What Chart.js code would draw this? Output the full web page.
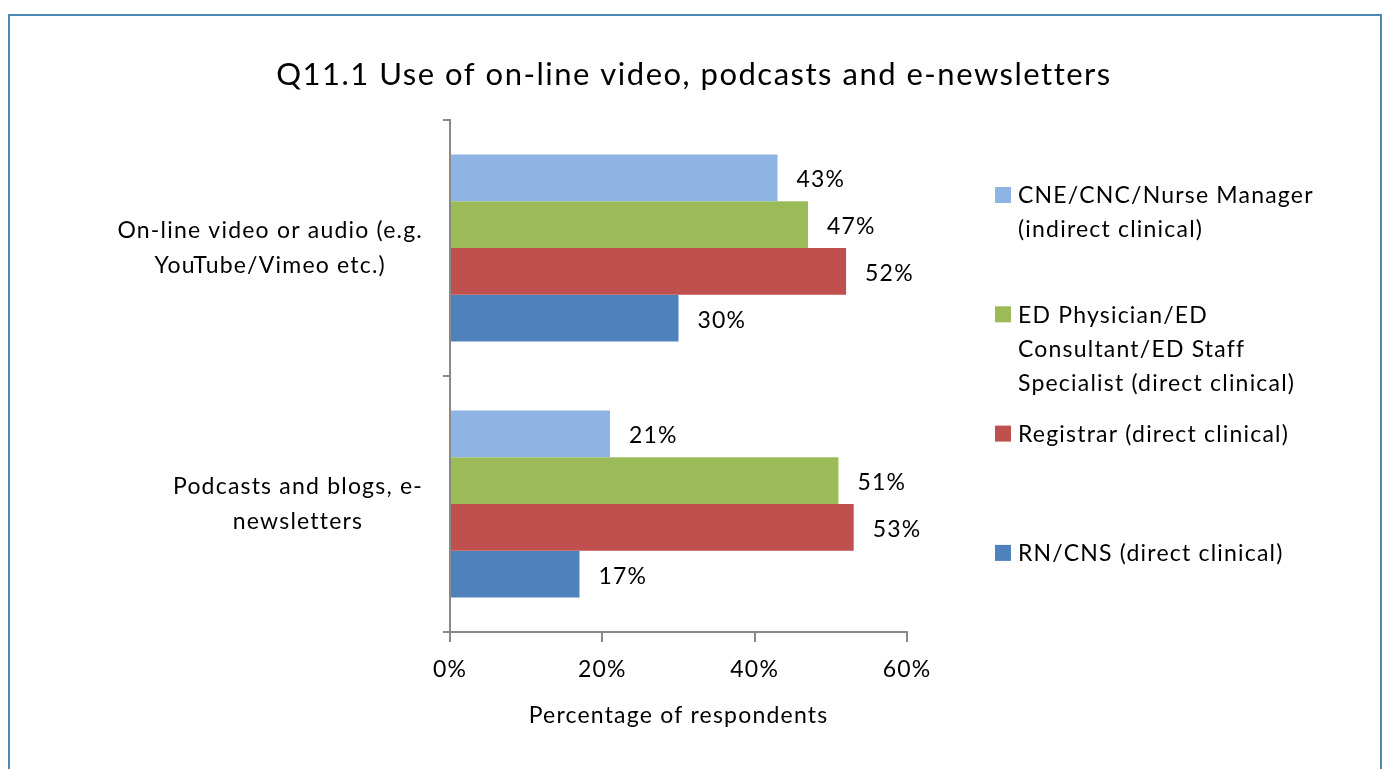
<!DOCTYPE html>
<html>
<head>
<meta charset="utf-8">
<script src="https://cdn.jsdelivr.net/npm/chart.js@4.4.0/dist/chart.umd.min.js"></script>
<style>
  html, body { margin: 0; padding: 0; background: #fff; overflow: hidden; }
  #frame { position: absolute; left: 8px; top: 14px; width: 1370px; height: 800px; border: 2px solid #4a89b5; }
  #chart { position: absolute; left: 0; top: 0; }
</style>
</head>
<body>
<div id="frame"></div>
<canvas id="chart" width="1386" height="769"></canvas>
<script>
// chart data
const chartTitle = "Q11.1 Use of on-line video, podcasts and e-newsletters";
const categories = [
  ["On-line video or audio (e.g.", "YouTube/Vimeo etc.)"],
  ["Podcasts and blogs, e-", "newsletters"],
];
const seriesNames = [
  ["CNE/CNC/Nurse Manager", "(indirect clinical)"],
  ["ED Physician/ED", "Consultant/ED Staff", "Specialist (direct clinical)"],
  ["Registrar (direct clinical)"],
  ["RN/CNS (direct clinical)"],
];
const cneValues = [43, 21];
const edValues = [47, 51];
const registrarValues = [52, 53];
const rnValues = [30, 17];
const xTicks = [0, 20, 40, 60];
const xTitle = "Percentage of respondents";

const FONT = "Lato";
const TEXT_SIZE = 23;
const colors = ["#8eb4e3", "#9bbb59", "#c0504d", "#4f81bd"];
const axisGray = "#898989";

// wider tracking for every text drawn on the canvas
const tracking = {
  id: "tracking",
  beforeDraw(chart) {
    chart.ctx.letterSpacing = "1.2px";
  },
};

// title, drawn centred on the canvas rather than the plot
const titlePlugin = {
  id: "bigTitle",
  afterDraw(chart) {
    const ctx = chart.ctx;
    ctx.save();
    ctx.letterSpacing = "1.5px";
    ctx.font = "31px " + FONT;
    ctx.fillStyle = "#000";
    ctx.textAlign = "center";
    ctx.textBaseline = "middle";
    ctx.fillText(chartTitle, 694, 75);
    ctx.restore();
  },
};

// category labels: each block right aligned, lines centred inside it
const categoryLabels = {
  id: "categoryLabels",
  afterDraw(chart) {
    const ctx = chart.ctx;
    const yScale = chart.scales.y;
    ctx.save();
    ctx.font = TEXT_SIZE + "px " + FONT;
    ctx.fillStyle = "#000";
    ctx.textAlign = "center";
    ctx.textBaseline = "middle";
    const lh = 35;
    categories.forEach((lines, i) => {
      const y = yScale.getPixelForValue(i);
      const w = Math.max(...lines.map((l) => ctx.measureText(l).width));
      const cx = 423 - w / 2;
      lines.forEach((l, k) => {
        ctx.fillText(l, cx, y + (k - (lines.length - 1) / 2) * lh);
      });
    });
    ctx.restore();
  },
};

// value labels to the right of each bar
const valueLabels = {
  id: "valueLabels",
  afterDatasetsDraw(chart) {
    const ctx = chart.ctx;
    ctx.save();
    ctx.font = TEXT_SIZE + "px " + FONT;
    ctx.fillStyle = "#000";
    ctx.textAlign = "left";
    ctx.textBaseline = "middle";
    chart.data.datasets.forEach((ds, di) => {
      chart.getDatasetMeta(di).data.forEach((bar, i) => {
        ctx.fillText(ds.data[i] + "%", bar.x + 19, bar.y + 2);
      });
    });
    ctx.restore();
  },
};

// legend on the right, wrapped names
const sideLegend = {
  id: "sideLegend",
  afterDraw(chart) {
    const ctx = chart.ctx;
    ctx.save();
    ctx.font = TEXT_SIZE + "px " + FONT;
    ctx.textAlign = "left";
    ctx.textBaseline = "middle";
    seriesNames.forEach((lines, i) => {
      const top = 178 + i * 119.3;
      ctx.fillStyle = colors[i];
      ctx.fillRect(995, top + 9, 16, 16);
      ctx.fillStyle = "#000";
      lines.forEach((l, k) => {
        ctx.fillText(l, 1018, top + 18 + k * 34);
      });
    });
    ctx.restore();
  },
};

const seriesValues = [cneValues, edValues, registrarValues, rnValues];

new Chart(document.getElementById("chart").getContext("2d"), {
  type: "bar",
  data: {
    labels: categories.map((c) => c.join(" ")),
    datasets: seriesValues.map((vals, i) => ({
      label: seriesNames[i].join(" "),
      data: vals,
      backgroundColor: colors[i],
      categoryPercentage: 0.73,
      barPercentage: 1,
    })),
  },
  options: {
    indexAxis: "y",
    responsive: false,
    animation: false,
    layout: { padding: { left: 443, right: 479, top: 120, bottom: 0 } },
    plugins: {
      legend: { display: false },
      tooltip: { enabled: false },
      title: { display: false },
    },
    scales: {
      x: {
        min: 0,
        max: 60,
        afterBuildTicks(s) {
          s.ticks = xTicks.map((v) => ({ value: v }));
        },
        afterFit(s) {
          s.height = 137;
        },
        ticks: {
          callback: (v) => v + "%",
          color: "#000",
          font: { family: FONT, size: TEXT_SIZE },
          padding: 14,
        },
        grid: {
          drawOnChartArea: false,
          drawTicks: true,
          tickLength: 10,
          color: axisGray,
          lineWidth: 2,
        },
        border: { color: axisGray, width: 2 },
        title: {
          display: true,
          text: xTitle,
          color: "#000",
          font: { family: FONT, size: TEXT_SIZE },
          padding: { top: 0, bottom: 40 },
        },
      },
      y: {
        afterFit(s) {
          s.width = 7;
        },
        ticks: { display: false },
        grid: {
          offset: true,
          drawOnChartArea: false,
          drawTicks: true,
          tickLength: 7,
          color: axisGray,
          lineWidth: 2,
        },
        border: { color: axisGray, width: 2 },
      },
    },
  },
  plugins: [tracking, titlePlugin, categoryLabels, valueLabels, sideLegend],
});
</script>
</body>
</html>
